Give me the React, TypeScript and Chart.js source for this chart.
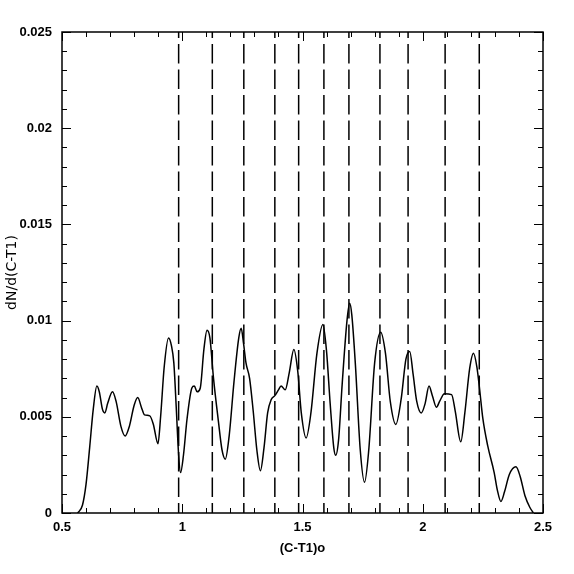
import React, { useEffect, useRef } from "react";
import Chart from "chart.js/auto";

// Smoothed colour distribution (x = (C-T1)o, y = dN/d(C-T1))
const curveX = [
  0.565, 0.585, 0.6, 0.615, 0.63, 0.645, 0.655, 0.668, 0.678, 0.69, 0.71, 0.725, 0.745, 0.7625, 0.78, 0.8,
  0.815, 0.83, 0.843, 0.865, 0.88, 0.899, 0.91, 0.925, 0.943, 0.955, 0.965, 0.975, 0.985, 0.993, 1.005,
  1.02, 1.04, 1.05, 1.062, 1.075, 1.09, 1.103, 1.115, 1.13, 1.15, 1.165, 1.179, 1.195, 1.215, 1.235,
  1.245, 1.255, 1.265, 1.28, 1.295, 1.31, 1.325, 1.34, 1.355, 1.37, 1.385, 1.4, 1.411, 1.428, 1.445,
  1.464, 1.48, 1.495, 1.515, 1.535, 1.56, 1.585, 1.6, 1.615, 1.63, 1.638, 1.65, 1.665, 1.685, 1.696,
  1.705, 1.72, 1.74, 1.758, 1.775, 1.8, 1.825, 1.845, 1.865, 1.888, 1.91, 1.93, 1.946, 1.96, 1.975,
  1.994, 2.01, 2.026, 2.04, 2.057, 2.07, 2.09, 2.12, 2.135, 2.158, 2.175, 2.195, 2.211, 2.225, 2.235,
  2.25, 2.27, 2.297, 2.31, 2.325, 2.34, 2.36, 2.3875, 2.405, 2.425, 2.445, 2.46,
];
const curveY = [
  0, 0.0004, 0.0015, 0.0034, 0.0054, 0.0066, 0.0063, 0.0054, 0.0052, 0.0057, 0.0063, 0.0058, 0.0045, 0.004, 0.0045, 0.0056,
  0.006, 0.0055, 0.0051, 0.00505, 0.0046, 0.0036, 0.005, 0.0076, 0.0091, 0.0087, 0.0078, 0.0055, 0.003, 0.0021, 0.003,
  0.0049, 0.0065, 0.0066, 0.0063, 0.0065, 0.0085, 0.0095, 0.0091, 0.007, 0.0048, 0.0033, 0.0028, 0.004, 0.0068, 0.0091,
  0.0096, 0.0088, 0.0078, 0.007, 0.0053, 0.0033, 0.0022, 0.0034, 0.0052, 0.0059, 0.0061, 0.0064, 0.0066, 0.0064, 0.0073,
  0.0085, 0.0074, 0.0052, 0.0039, 0.0052, 0.0083, 0.0098, 0.0084, 0.0057, 0.0034, 0.003, 0.0038, 0.0067, 0.01, 0.0109,
  0.0103, 0.0077, 0.0033, 0.0016, 0.0032, 0.0078, 0.0094, 0.0083, 0.0058, 0.0046, 0.0059, 0.008, 0.0084, 0.0072, 0.0058,
  0.0052, 0.0057, 0.0066, 0.0061, 0.0055, 0.0058, 0.0062, 0.00615, 0.0053, 0.0037, 0.0052, 0.0075, 0.0083, 0.0076, 0.0066,
  0.0049, 0.0035, 0.0021, 0.0012, 0.0006, 0.0011, 0.002, 0.0024, 0.0019, 0.0009, 0.0003, 0,
];

// Dashed vertical markers
const dashedLines = [0.985, 1.125, 1.256, 1.385, 1.484, 1.589, 1.693, 1.822, 1.939, 2.093, 2.235];

const xTicks = [0.5, 1, 1.5, 2, 2.5];
const yTicks = [0, 0.005, 0.01, 0.015, 0.02, 0.025];
const xLabel = "(C-T1)o";
const yLabel = "dN/d(C-T1)";

const framePlugin = {
  id: "frameTicks",
  afterDatasetsDraw(chart: any) {
    const { ctx, chartArea, scales } = chart;
    const { left, right, top, bottom } = chartArea;
    const xs = scales.x;
    const ys = scales.y;
    ctx.save();
    ctx.strokeStyle = "#000";
    ctx.lineWidth = 1.5;
    ctx.strokeRect(left, top, right - left, bottom - top);
    ctx.lineWidth = 1;
    ctx.beginPath();
    for (let i = 5; i <= 25; i++) {
      const v = i / 10;
      const px = Math.round(xs.getPixelForValue(v)) + 0.5;
      const len = i % 5 === 0 ? 9 : 5;
      ctx.moveTo(px, bottom);
      ctx.lineTo(px, bottom - len);
      ctx.moveTo(px, top);
      ctx.lineTo(px, top + len);
    }
    for (let i = 0; i <= 25; i++) {
      const v = i / 1000;
      const py = Math.round(ys.getPixelForValue(v)) + 0.5;
      const len = i % 5 === 0 ? 9 : 5;
      ctx.moveTo(left, py);
      ctx.lineTo(left + len, py);
      ctx.moveTo(right, py);
      ctx.lineTo(right - len, py);
    }
    ctx.stroke();
    ctx.restore();
  },
};

export default function App() {
  const canvasRef = useRef<HTMLCanvasElement | null>(null);

  useEffect(() => {
    document.body.style.margin = "0";
    const canvas = canvasRef.current;
    if (!canvas) return;
    const curve = curveX.map((x, i) => ({ x, y: curveY[i] }));
    const dashSets = dashedLines.map((x) => ({
      data: [
        { x, y: 0.025 },
        { x, y: 0 },
      ],
      borderColor: "#000",
      borderWidth: 1.5,
      borderDash: [19.5, 6],
      borderDashOffset: 13.5,
      pointRadius: 0,
      fill: false,
      tension: 0,
    }));
    const tickFont = { family: "'Liberation Sans', Arial, sans-serif", size: 13, weight: "bold" as const };
    const chart = new Chart(canvas, {
      type: "line",
      data: {
        datasets: [
          {
            data: curve,
            borderColor: "#000",
            borderWidth: 1.5,
            pointRadius: 0,
            fill: false,
            cubicInterpolationMode: "monotone",
          } as any,
          ...dashSets,
        ],
      },
      options: {
        animation: false,
        responsive: false,
        devicePixelRatio: 1,
        layout: { padding: { left: 0, right: 31, top: 32, bottom: 0 } },
        plugins: { legend: { display: false }, tooltip: { enabled: false } },
        scales: {
          x: {
            type: "linear",
            min: 0.5,
            max: 2.5,
            afterBuildTicks: (s: any) => {
              s.ticks = xTicks.map((v) => ({ value: v }));
            },
            afterFit: (s: any) => {
              s.height = 61;
            },
            grid: { display: false, drawTicks: false },
            border: { display: false },
            ticks: {
              color: "#000",
              font: tickFont,
              padding: 7,
              maxRotation: 0,
              autoSkip: false,
              callback: (v: any) => String(Number(Number(v).toFixed(2))),
            },
            title: {
              display: true,
              text: xLabel,
              color: "#000",
              font: tickFont,
              padding: { top: 0, bottom: 18 },
            },
          },
          y: {
            type: "linear",
            min: 0,
            max: 0.025,
            afterBuildTicks: (s: any) => {
              s.ticks = yTicks.map((v) => ({ value: v }));
            },
            afterFit: (s: any) => {
              s.width = 62;
            },
            grid: { display: false, drawTicks: false },
            border: { display: false },
            ticks: {
              color: "#000",
              font: tickFont,
              padding: 10,
              autoSkip: false,
              callback: (v: any) => String(Number(Number(v).toFixed(3))),
            },
            title: {
              display: true,
              text: yLabel,
              color: "#000",
              font: { family: "'DejaVu Sans', sans-serif", size: 14, weight: "normal" as const },
              padding: { top: 4, bottom: 0 },
            },
          },
        },
      },
      plugins: [framePlugin],
    });
    return () => chart.destroy();
  }, []);

  return (
    <div style={{ position: "absolute", left: 0, top: 0, width: 574, height: 574, background: "#fff" }}>
      <canvas ref={canvasRef} width={574} height={574} style={{ display: "block" }} />
    </div>
  );
}
